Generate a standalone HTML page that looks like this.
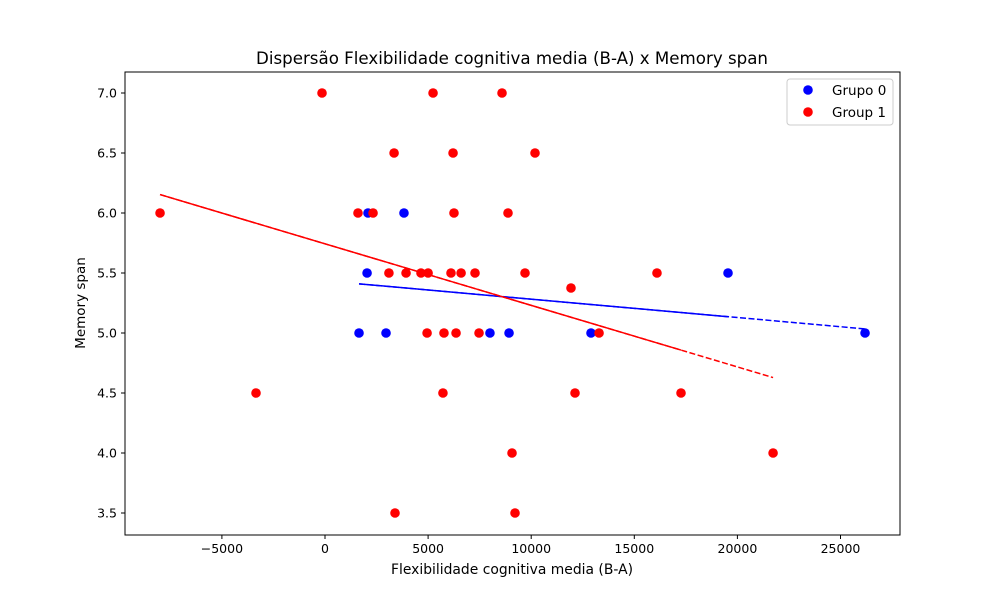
<!DOCTYPE html>
<html><head><meta charset="utf-8"><style>
body{margin:0;background:#fff;font-family:"Liberation Sans","DejaVu Sans",sans-serif}
svg text{font-family:"DejaVu Sans","Liberation Sans",sans-serif}
</style></head><body>
<svg id="chart" width="1000" height="600" xmlns="http://www.w3.org/2000/svg"></svg>
<script>
const xTicks=[-5000,0,5000,10000,15000,20000,25000];
const yTicks=[3.5,4.0,4.5,5.0,5.5,6.0,6.5,7.0];
const g0x=[2085,3830,2040,19545,1650,2960,8000,8925,12900,26190];
const g0y=[6.0,6.0,5.5,5.5,5.0,5.0,5.0,5.0,5.0,5.0];
const g1x=[-8000,-145,5240,8585,3350,6210,10185,1600,2330,6255,8875,3100,3930,4655,5000,6110,6600,7275,9700,16100,11930,4950,5770,6355,7470,13290,-3345,5720,12125,17265,9070,21730,3395,9215];
const g1y=[6.0,7.0,7.0,7.0,6.5,6.5,6.5,6.0,6.0,6.0,6.0,5.5,5.5,5.5,5.5,5.5,5.5,5.5,5.5,5.5,5.375,5.0,5.0,5.0,5.0,5.0,4.5,4.5,4.5,4.5,4.0,4.0,3.5,3.5];
const seriesNames=["Grupo 0","Group 1"];
const NS="http://www.w3.org/2000/svg";
const svg=document.getElementById('chart');
const L=125,R=900,T=72,B=535;
const sx=v=>325+v*(103.1/5000);
const sy=v=>93+(7-v)*120;
function mk(tag,attrs,parent){const e=document.createElementNS(NS,tag);for(const k in attrs)e.setAttribute(k,attrs[k]);(parent||svg).appendChild(e);return e;}
function txt(s,attrs){const e=mk('text',attrs);e.textContent=s;return e;}
const t=txt("Dispersão Flexibilidade cognitiva media (B-A) x Memory span",{x:512,y:64,'text-anchor':'middle','font-size':16.5,textLength:512,lengthAdjust:'spacingAndGlyphs'});

xTicks.forEach(v=>{const x=sx(v);mk('line',{x1:x,x2:x,y1:B,y2:B+4,stroke:'#000'});
 const l=txt(v<0?'\u2212'+(-v):String(v),{x:x,y:B+18,'text-anchor':'middle','font-size':12.5});
 });
yTicks.forEach(v=>{const y=sy(v);mk('line',{x1:L,x2:L-4,y1:y,y2:y,stroke:'#000'});
 const l=txt(v.toFixed(1),{x:L-8,y:y+4.5,'text-anchor':'end','font-size':12.5});
 });
const xt=txt("Flexibilidade cognitiva media (B-A)",{x:512,y:574,'text-anchor':'middle','font-size':14,textLength:242,lengthAdjust:'spacingAndGlyphs'});

const yt=txt("Memory span",{x:0,y:0,'text-anchor':'middle','font-size':13.5,transform:'translate(85,303) rotate(-90)'});

function fit(xs,ys){const n=xs.length;const mx=xs.reduce((a,b)=>a+b)/n,my=ys.reduce((a,b)=>a+b)/n;let sxy=0,sxx=0;for(let i=0;i<n;i++){sxy+=(xs[i]-mx)*(ys[i]-my);sxx+=(xs[i]-mx)**2;}const m=sxy/sxx;return [m,my-m*mx];}
function series(xs,ys,color,name){
 xs.forEach((x,i)=>{const c=mk('circle',{cx:sx(x),cy:sy(ys[i]),r:4.8,fill:color});
  });
 const [m,b]=fit(xs,ys);const sorted=[...xs].sort((a,c)=>a-c);
 const x0=sorted[0],x1=sorted[sorted.length-1],x2=sorted[sorted.length-2];
 const d=mk('line',{x1:sx(x0),y1:sy(m*x0+b),x2:sx(x1),y2:sy(m*x1+b),stroke:color,'stroke-width':1.5,'stroke-dasharray':'6,2.5'});
 
 const s=mk('line',{x1:sx(x0),y1:sy(m*x0+b),x2:sx(x2),y2:sy(m*x2+b),stroke:color,'stroke-width':1.5});
 
}
series(g0x,g0y,'#0000ff','grupo-0');
series(g1x,g1y,'#ff0000','group-1');
const fr=mk('rect',{x:L,y:T,width:R-L,height:B-T,fill:'none',stroke:'#000','stroke-width':1});

const lg=mk('g',{});
mk('rect',{x:787,y:79,width:106,height:46,rx:3,fill:'#fff',stroke:'#ccc'},lg);
[['#0000ff',seriesNames[0],90],['#ff0000',seriesNames[1],112]].forEach(([c,n,y])=>{
 const e=mk('g',{},lg);
 mk('circle',{cx:808,cy:y,r:4.8,fill:c},e);
 const tt=mk('text',{x:832,y:y+5,'font-size':13.5},e);tt.textContent=n;});
</script>
</body></html>
